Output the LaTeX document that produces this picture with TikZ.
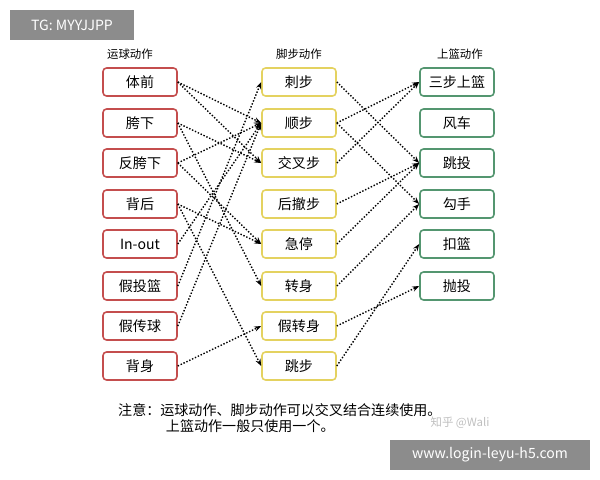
\documentclass[tikz,border=0pt]{standalone}
\usepackage{fontspec}
\setmainfont{Noto Sans CJK SC}
\usetikzlibrary{arrows.meta}
\definecolor{dribble}{RGB}{196,78,78}
\definecolor{footwork}{RGB}{228,210,96}
\definecolor{finish}{RGB}{84,150,112}
\tikzset{every node/.style={align=center}, >={Stealth[length=4pt,width=3pt]}, font=\fontsize{8}{9}\selectfont}
\tikzset{box/.style={draw, rounded corners=2pt, line width=0.9pt, minimum width=1.48cm, minimum height=0.56cm, inner sep=0pt, fill=white},
  lbox/.style={box, draw=dribble}, mbox/.style={box, draw=footwork}, rbox/.style={box, draw=finish},
  head/.style={font=\fontsize{6.5}{8}\selectfont},
  link/.style={->, densely dotted, line width=0.8pt}}

\begin{document}
\begin{tikzpicture}[x=0.02cm, y=-0.02cm]
            \useasboundingbox (0,0) rectangle (600,480);
            \node [fill=black!45, text=white, minimum width=2.48cm, minimum height=0.6cm, font=\fontsize{8}{9}\selectfont] (tag) at (72,25) {TG: MYYJJPP};
            \node [fill=black!45, text=white, minimum width=4cm, minimum height=0.6cm, font=\fontsize{8}{9}\selectfont] (site) at (490,455) {www.login-leyu-h5.com};
            \node [text=black!25, head] (mark) at (460,423) {知乎 @Wali};

            \node [head] (hl) at (130,54) {运球动作};
            \node [head] (hm) at (299,54) {脚步动作};
            \node [head] (hr) at (460,54) {上篮动作};

            \node [lbox] (l1) at (140,82) {体前};
            \node [lbox] (l2) at (140,123) {胯下};
            \node [lbox] (l3) at (140,163) {反胯下};
            \node [lbox] (l4) at (140,204) {背后};
            \node [lbox] (l5) at (140,244) {In-out};
            \node [lbox] (l6) at (140,286) {假投篮};
            \node [lbox] (l7) at (140,326) {假传球};
            \node [lbox] (l8) at (140,366) {背身};

            \node [mbox] (m1) at (299,82) {刺步};
            \node [mbox] (m2) at (299,123) {顺步};
            \node [mbox] (m3) at (299,163) {交叉步};
            \node [mbox] (m4) at (299,204) {后撤步};
            \node [mbox] (m5) at (299,244) {急停};
            \node [mbox] (m6) at (299,286) {转身};
            \node [mbox] (m7) at (299,326) {假转身};
            \node [mbox] (m8) at (299,366) {跳步};

            \node [rbox] (r1) at (457,82) {三步上篮};
            \node [rbox] (r2) at (457,123) {风车};
            \node [rbox] (r3) at (457,163) {跳投};
            \node [rbox] (r4) at (457,204) {勾手};
            \node [rbox] (r5) at (457,244) {扣篮};
            \node [rbox] (r6) at (457,286) {抛投};

            \foreach \a/\b in {l1/m2,l1/m3,l2/m3,l2/m6,l3/m2,l3/m5,l4/m5,l4/m8,l5/m2,l6/m1,l7/m2,l8/m7,
                m1/r3,m2/r1,m2/r4,m3/r1,m4/r3,m5/r3,m6/r4,m7/r6,m8/r5}
                \draw [link] (\a.east) -- (\b.west);

            \node [anchor=west, align=left] (note) at (112,418) {注意：运球动作、脚步动作可以交叉结合连续使用。\\\hspace{3.4em}上篮动作一般只使用一个。};
        \end{tikzpicture}
\end{document}
